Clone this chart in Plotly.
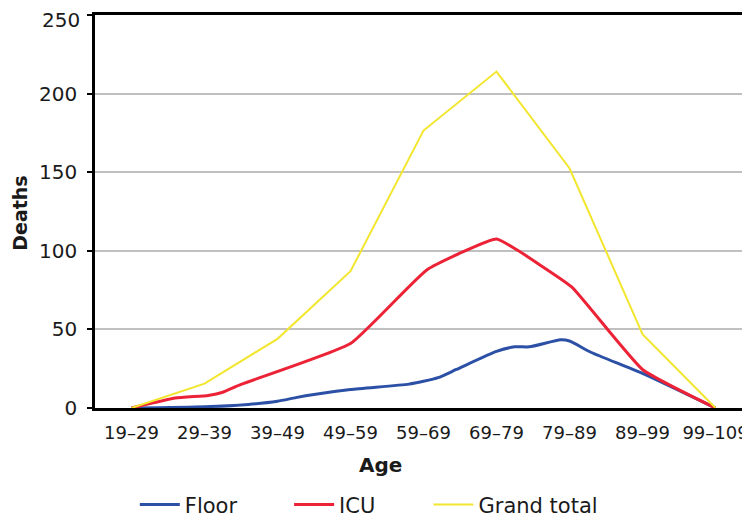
import plotly.graph_objects as go

categories = ["19–29", "29–39", "39–49", "49–59", "59–69", "69–79", "79–89", "89–99", "99–109"]

# Floor: positions on the age-category index axis and deaths
floor_x = [0, 1, 1.6, 2, 2.25, 2.5, 3, 3.8, 4, 4.2, 4.45, 5, 5.25, 5.45, 5.88, 6.0, 6.3, 7, 8]
floor_y = [0, 0.8, 2.3, 4.3, 6.6, 8.6, 11.7, 15.2, 17, 19.3, 24.5, 36, 38.9, 38.9, 43.4, 42.6, 35.3, 22, 0]

# ICU
icu_x = [0, 0.6, 1.05, 1.25, 1.5, 3, 4.05, 5, 5.3, 5.55, 6.03, 7, 8]
icu_y = [0, 6.3, 8, 10, 15, 41, 88, 107.5, 100, 92.4, 77, 24.5, 0]

# Grand total
total_x = [0, 1, 2, 3, 4, 5, 6, 7, 8]
total_y = [0, 15.5, 44, 87, 176.5, 214, 152.5, 47, 0]

y_ticks = [0, 50, 100, 150, 200, 250]
y_ticktext = ["0", "50", "100", "150", "200", ""]
top_label = "250"

FONT = "DejaVu Sans"
TXT = "#1a1a1a"

fig = go.Figure()
fig.add_trace(go.Scatter(x=floor_x, y=floor_y, mode="lines", name="Floor",
                         line=dict(color="#2b50a5", width=3, shape="spline", smoothing=0.6),
                         legend="legend"))
fig.add_trace(go.Scatter(x=icu_x, y=icu_y, mode="lines", name="ICU",
                         line=dict(color="#ec2236", width=3, shape="spline", smoothing=0.4),
                         legend="legend2"))
fig.add_trace(go.Scatter(x=total_x, y=total_y, mode="lines", name="Grand total",
                         line=dict(color="#f2e62e", width=2),
                         legend="legend3"))

W0, W1, H0, H1 = 87, 747, 7, 413
pw, ph = W1 - W0, H1 - H0

def px_x(p):
    return (p - W0) / pw

def px_y(p):
    return (H1 - p) / ph

leg_common = dict(orientation="h", yanchor="middle", xanchor="left",
                  font=dict(family=FONT, size=21, color=TXT),
                  bgcolor="rgba(0,0,0,0)", itemwidth=40)

fig.update_layout(
    width=750, height=520,
    showlegend=True,
    margin=dict(l=W0, r=750 - W1, t=H0, b=520 - H1),
    paper_bgcolor="white", plot_bgcolor="white",
    font=dict(family=FONT, color=TXT),
    legend=dict(x=px_x(127), y=px_y(513), **leg_common),
    legend2=dict(x=px_x(282), y=px_y(513), **leg_common),
    legend3=dict(x=px_x(422), y=px_y(513), **leg_common),
    xaxis=dict(
        range=[-0.5, 8.5], tickmode="array", tickvals=list(range(len(categories))),
        ticktext=categories, showgrid=False, zeroline=False,
        showline=True, linecolor="black", linewidth=3, mirror=True,
        ticks="", tickfont=dict(family=FONT, size=18, color=TXT),
        ticklabelstandoff=6,
    ),
    yaxis=dict(
        range=[0, 250], tickmode="array", tickvals=y_ticks, ticktext=y_ticktext,
        showgrid=True, gridcolor="#c0c0c0", gridwidth=2, zeroline=False,
        showline=True, linecolor="black", linewidth=2.5, mirror=True,
        ticks="outside", ticklen=5, tickwidth=2, tickcolor="black",
        tickfont=dict(family=FONT, size=20, color=TXT),
        ticklabelstandoff=6,
    ),
    annotations=[
        dict(text=top_label, xref="paper", yref="paper", x=px_x(74), y=px_y(12),
             xanchor="right", yanchor="middle", showarrow=False,
             font=dict(family=FONT, size=20, color=TXT)),
        dict(text="<b>Age</b>", xref="paper", yref="paper", x=px_x(374), y=px_y(472),
             xanchor="center", yanchor="middle", showarrow=False,
             font=dict(family=FONT, size=20, color=TXT)),
        dict(text="<b>Deaths</b>", xref="paper", yref="paper", x=px_x(12), y=px_y(212),
             xanchor="center", yanchor="middle", showarrow=False, textangle=-90,
             font=dict(family=FONT, size=19, color=TXT)),
    ],
)

fig.write_html("out.html")
